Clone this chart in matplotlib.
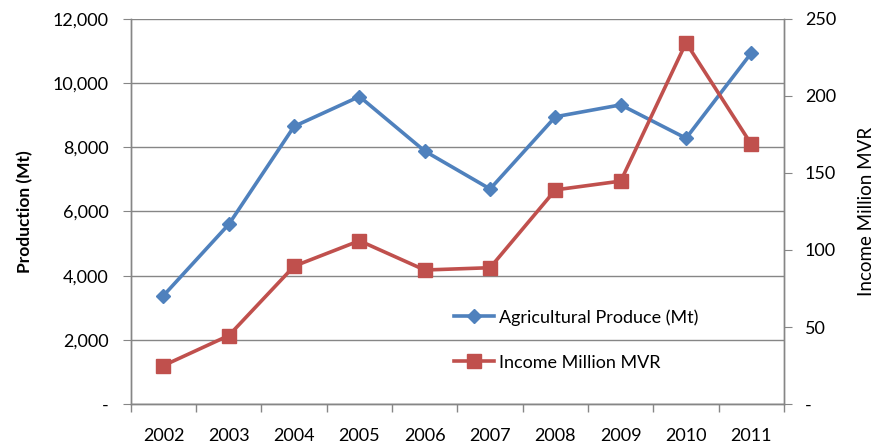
import matplotlib.pyplot as plt
from matplotlib.ticker import FuncFormatter, MultipleLocator

years = ['2002', '2003', '2004', '2005', '2006', '2007', '2008', '2009', '2010', '2011']
production = [3380, 5600, 8650, 9580, 7880, 6700, 8950, 9320, 8280, 10940]
income = [25, 44.5, 89.5, 106, 87, 88.5, 139, 144.7, 234.5, 168.5]

blue = '#4F81BD'
red = '#C0504D'
grey = '#868686'

plt.rcParams['font.family'] = ['Lato', 'DejaVu Sans']


def fmt(v, pos):
    return '-' if v == 0 else '{:,.0f}'.format(v)


fig = plt.figure(figsize=(8.78, 4.48), dpi=100)
ax = fig.add_axes([0.149, 0.098, 0.744, 0.86])
ax2 = ax.twinx()

x = list(range(len(years)))

l1, = ax.plot(x, production, color=blue, lw=2.6, marker='D', ms=7,
              solid_joinstyle='round', label='Agricultural Produce (Mt)')
l2, = ax2.plot(x, income, color=red, lw=2.6, marker='s', ms=9.5,
               solid_joinstyle='round', label='Income Million MVR')

ax.set_xlim(-0.5, len(years) - 0.5)
ax.set_ylim(0, 12000)
ax2.set_ylim(0, 250)

ax.yaxis.set_major_locator(MultipleLocator(2000))
ax2.yaxis.set_major_locator(MultipleLocator(50))
ax.yaxis.set_major_formatter(FuncFormatter(fmt))
ax2.yaxis.set_major_formatter(FuncFormatter(fmt))

ax.set_xticks(x)
ax.set_xticklabels(years)
ax.set_xticks([i - 0.5 for i in range(len(years) + 1)], minor=True)
ax.tick_params(axis='x', which='major', length=0, pad=17, labelsize=13)
ax.tick_params(axis='x', which='minor', length=6, color=grey, width=1)
ax.tick_params(axis='y', length=6, color=grey, pad=10, labelsize=13)
ax2.tick_params(axis='y', length=6, color=grey, pad=9, labelsize=13)

ax.grid(axis='y', color=grey, lw=1)
ax.set_axisbelow(True)

for a in (ax, ax2):
    a.spines['top'].set_visible(False)
    for s in ('left', 'right', 'bottom'):
        a.spines[s].set_color(grey)
        a.spines[s].set_linewidth(1)

ax.set_ylabel('Production (Mt)', fontsize=12.5, fontweight='bold', labelpad=14)
ax2.set_ylabel('Income Million MVR', fontsize=13.5, labelpad=16)

ax2.legend([l1, l2], [l1.get_label(), l2.get_label()],
           loc='upper left', bbox_to_anchor=(0.507, 0.33), bbox_transform=fig.transFigure,
           frameon=False, fontsize=13, labelspacing=1.6, handlelength=2.2,
           handletextpad=0.3, borderpad=0)

fig.savefig('out.png', dpi=100)
